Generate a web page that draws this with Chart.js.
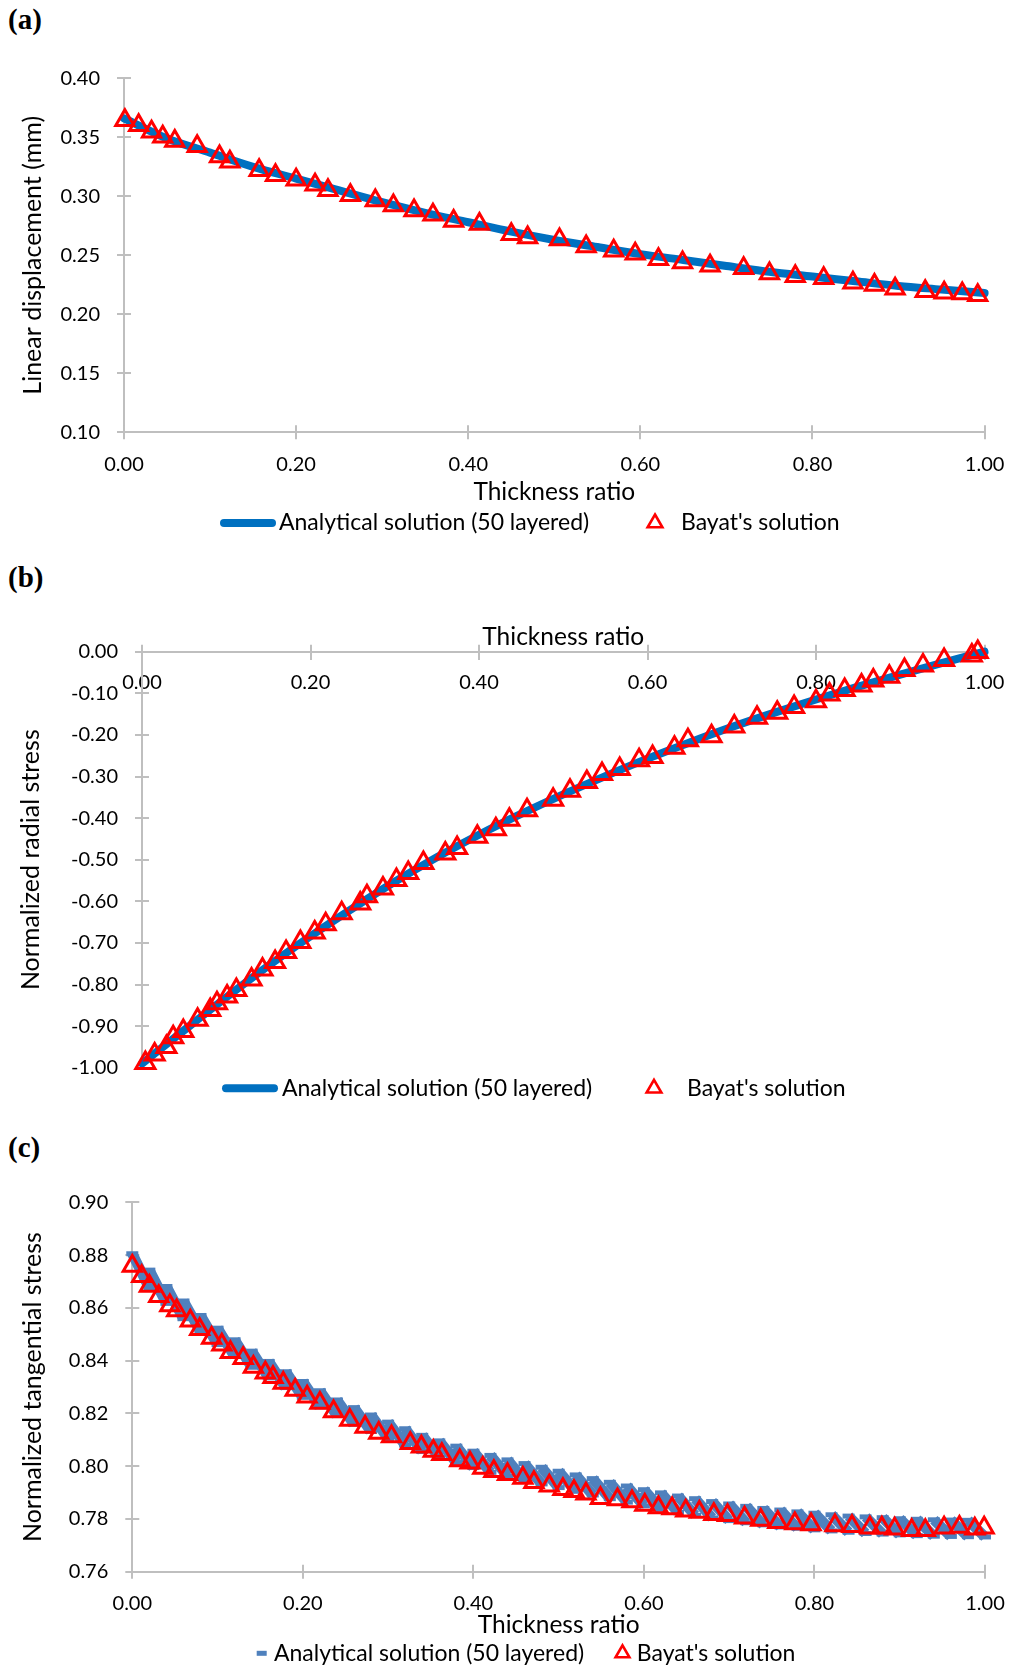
<!DOCTYPE html>
<html>
<head>
<meta charset="utf-8">
<script src="https://cdn.jsdelivr.net/npm/chart.js@4.4.0/dist/chart.umd.min.js"></script>
<style>
  html, body { margin: 0; padding: 0; background: #fff; }
  body { width: 1012px; height: 1667px; position: relative; overflow: hidden; }
  canvas { position: absolute; left: 0; }
  .tag { position: absolute; left: 8px; font: bold 29px "Liberation Serif", "Times New Roman", serif; line-height: 29px; color: #000; }
</style>
</head>
<body>
<div class="tag" style="top:5px">(a)</div>
<div class="tag" style="top:563px">(b)</div>
<div class="tag" style="top:1133px">(c)</div>
<canvas id="chartA" width="1012" height="545" style="top:0"></canvas>
<canvas id="chartB" width="1012" height="560" style="top:545px"></canvas>
<canvas id="chartC" width="1012" height="562" style="top:1105px"></canvas>
<script>
// series names shared by the three panels
const seriesNames = ['Analytical solution (50 layered)', "Bayat's solution"];
const xTitle = 'Thickness ratio';

// (a) linear displacement (mm)
const thicknessGrid = [0, 0.05, 0.10, 0.15, 0.20, 0.25, 0.30, 0.35, 0.40, 0.45, 0.50,
  0.55, 0.60, 0.65, 0.70, 0.75, 0.80, 0.85, 0.90, 0.95, 1.00];
const dispAnalytical = [0.366, 0.349, 0.337, 0.325, 0.315, 0.305, 0.295, 0.286, 0.278, 0.270, 0.263,
  0.257, 0.251, 0.246, 0.241, 0.236, 0.232, 0.228, 0.224, 0.221, 0.218];
const dispBayatX = [0.001, 0.017, 0.032, 0.045, 0.059, 0.085, 0.111, 0.123, 0.157, 0.176,
  0.200, 0.222, 0.237, 0.263, 0.292, 0.313, 0.337, 0.359, 0.383, 0.413,
  0.450, 0.469, 0.506, 0.537, 0.569, 0.594, 0.621, 0.649, 0.681, 0.720,
  0.750, 0.780, 0.813, 0.847, 0.872, 0.896, 0.931, 0.953, 0.974, 0.992];
const dispBayat = [0.3644, 0.3602, 0.3548, 0.3505, 0.3469, 0.3425, 0.3337, 0.3293, 0.3220, 0.3178,
  0.3140, 0.3098, 0.3052, 0.3009, 0.2964, 0.2922, 0.2880, 0.2844, 0.2791, 0.2765,
  0.2679, 0.2651, 0.2634, 0.2575, 0.2538, 0.2513, 0.2467, 0.2439, 0.2411, 0.2391,
  0.2346, 0.2323, 0.2305, 0.2267, 0.2248, 0.2217, 0.2195, 0.2182, 0.2176, 0.2161];

// (b) normalized radial stress
const radialAnalytical = [-0.990, -0.910, -0.831, -0.755, -0.684, -0.617, -0.553, -0.494, -0.440, -0.390, -0.343,
  -0.299, -0.257, -0.218, -0.181, -0.147, -0.115, -0.084, -0.055, -0.027, 0.000];
const radialBayatX = [0.004, 0.015, 0.029, 0.037, 0.049, 0.066, 0.081, 0.089, 0.101, 0.112,
  0.130, 0.143, 0.158, 0.171, 0.188, 0.205, 0.218, 0.237, 0.259, 0.267,
  0.286, 0.302, 0.316, 0.334, 0.360, 0.374, 0.398, 0.420, 0.436, 0.457,
  0.488, 0.508, 0.528, 0.546, 0.567, 0.590, 0.606, 0.632, 0.648, 0.676,
  0.703, 0.730, 0.754, 0.774, 0.800, 0.816, 0.834, 0.854, 0.868, 0.887,
  0.905, 0.927, 0.952, 0.985, 0.992];
const radialBayat = [-0.989, -0.968, -0.950, -0.927, -0.912, -0.885, -0.861, -0.845, -0.829, -0.813,
  -0.788, -0.764, -0.746, -0.722, -0.698, -0.675, -0.655, -0.629, -0.605, -0.588,
  -0.569, -0.549, -0.532, -0.508, -0.485, -0.472, -0.445, -0.427, -0.404, -0.381,
  -0.356, -0.334, -0.313, -0.294, -0.282, -0.261, -0.253, -0.231, -0.213, -0.203,
  -0.180, -0.159, -0.147, -0.133, -0.119, -0.103, -0.092, -0.081, -0.069, -0.060,
  -0.044, -0.033, -0.020, -0.009, -0.001];

// (c) normalized tangential stress, 50 layers: value at inner and outer face of each layer
const tanLayerEdges = [0, 0.02, 0.04, 0.06, 0.08, 0.10, 0.12, 0.14, 0.16, 0.18,
  0.20, 0.22, 0.24, 0.26, 0.28, 0.30, 0.32, 0.34, 0.36, 0.38,
  0.40, 0.42, 0.44, 0.46, 0.48, 0.50, 0.52, 0.54, 0.56, 0.58,
  0.60, 0.62, 0.64, 0.66, 0.68, 0.70, 0.72, 0.74, 0.76, 0.78,
  0.80, 0.82, 0.84, 0.86, 0.88, 0.90, 0.92, 0.94, 0.96, 0.98, 1.00];
const tanLayerInner = [0.8805, 0.8743, 0.8681, 0.8626, 0.8571, 0.8523, 0.8479, 0.8436, 0.8397, 0.8358,
  0.8321, 0.8286, 0.8251, 0.8222, 0.8194, 0.8167, 0.8142, 0.8117, 0.8096, 0.8076,
  0.8057, 0.8041, 0.8024, 0.8010, 0.7996, 0.7981, 0.7967, 0.7953, 0.7939, 0.7925,
  0.7911, 0.7899, 0.7887, 0.7877, 0.7866, 0.7857, 0.7848, 0.7840, 0.7834, 0.7827,
  0.7822, 0.7816, 0.7811, 0.7808, 0.7805, 0.7801, 0.7799, 0.7797, 0.7796, 0.7795];
const tanLayerOuter = [0.8675, 0.8617, 0.8559, 0.8510, 0.8461, 0.8416, 0.8375, 0.8335, 0.8298, 0.8261,
  0.8225, 0.8192, 0.8159, 0.8132, 0.8105, 0.8080, 0.8056, 0.8033, 0.8014, 0.7995,
  0.7977, 0.7962, 0.7946, 0.7933, 0.7919, 0.7905, 0.7891, 0.7877, 0.7864, 0.7850,
  0.7837, 0.7825, 0.7814, 0.7804, 0.7794, 0.7786, 0.7778, 0.7770, 0.7765, 0.7759,
  0.7755, 0.7750, 0.7745, 0.7743, 0.7740, 0.7737, 0.7735, 0.7734, 0.7733, 0.7732];
const tanBayatX = [0.000, 0.011, 0.020, 0.031, 0.044, 0.052, 0.068, 0.079, 0.093, 0.105,
  0.115, 0.130, 0.142, 0.156, 0.165, 0.177, 0.191, 0.205, 0.220, 0.236,
  0.255, 0.273, 0.289, 0.304, 0.326, 0.339, 0.353, 0.363, 0.384, 0.396,
  0.411, 0.424, 0.440, 0.458, 0.471, 0.489, 0.505, 0.518, 0.532, 0.549,
  0.569, 0.586, 0.601, 0.617, 0.633, 0.649, 0.665, 0.682, 0.698, 0.718,
  0.737, 0.757, 0.777, 0.796, 0.824, 0.844, 0.865, 0.879, 0.894, 0.914,
  0.930, 0.952, 0.970, 0.988, 0.999];
const tanBayat = [0.8759, 0.8720, 0.8683, 0.8644, 0.8609, 0.8590, 0.8551, 0.8519, 0.8486, 0.8460,
  0.8432, 0.8409, 0.8376, 0.8354, 0.8337, 0.8315, 0.8289, 0.8263, 0.8240, 0.8207,
  0.8175, 0.8149, 0.8126, 0.8113, 0.8087, 0.8074, 0.8058, 0.8045, 0.8022, 0.8013,
  0.7993, 0.7981, 0.7970, 0.7955, 0.7939, 0.7926, 0.7913, 0.7905, 0.7896, 0.7879,
  0.7874, 0.7866, 0.7853, 0.7844, 0.7840, 0.7831, 0.7827, 0.7818, 0.7814, 0.7805,
  0.7796, 0.7788, 0.7783, 0.7779, 0.7775, 0.7773, 0.7767, 0.7767, 0.7763, 0.7757,
  0.7757, 0.7767, 0.7770, 0.7763, 0.7767];

const FONT_FAMILY = 'Lato, "Open Sans", sans-serif';
const TICK_SIZE = 20;
const Y_TITLE_SIZE = 25;
const X_TITLE_SIZE = 24.5;
const LEGEND_SIZE = 23;
const GREY = '#BFBFBF';
const LINE_BLUE = '#0070C0';
const MARK_BLUE = '#4F81BD';
const RED = '#FF0000';
const TEXT = '#000000';

const toPoints = (xs, ys) => xs.map((x, i) => ({ x: x, y: ys[i] }));
const label2 = v => (Math.abs(v) < 1e-9 ? '0.00' : v.toFixed(2));

// each layer is its own short segment, a null point breaks the line between layers
const layerPoints = [];
tanLayerInner.forEach((inner, i) => {
  layerPoints.push({ x: tanLayerEdges[i], y: inner });
  layerPoints.push({ x: tanLayerEdges[i + 1], y: tanLayerOuter[i] });
  layerPoints.push({ x: tanLayerEdges[i + 1], y: null });
});

// excel style "cross" tick marks: chart.js draws the outer half, this draws the inner half
const innerTicks = {
  id: 'innerTicks',
  beforeDatasetsDraw(chart, args, opts) {
    const { ctx, chartArea, scales } = chart;
    const xs = scales.x, ys = scales.y;
    const axisY = xs.options.position === 'bottom' ? chartArea.bottom : ys.getPixelForValue(0);
    ctx.save();
    ctx.strokeStyle = GREY;
    ctx.lineWidth = 2;
    ctx.beginPath();
    ys.ticks.forEach((t, i) => {
      const py = Math.round(ys.getPixelForTick(i));
      ctx.moveTo(chartArea.left, py);
      ctx.lineTo(chartArea.left + opts.length, py);
    });
    xs.ticks.forEach((t, i) => {
      const px = Math.round(xs.getPixelForTick(i));
      ctx.moveTo(px, axisY);
      ctx.lineTo(px, axisY - opts.length);
    });
    ctx.stroke();
    ctx.restore();
  }
};

// legend drawn from the dataset styles, laid out like the excel one
const excelLegend = {
  id: 'excelLegend',
  afterDraw(chart, args, opts) {
    const { ctx } = chart;
    const sets = chart.data.datasets;
    ctx.save();
    ctx.font = LEGEND_SIZE + 'px ' + FONT_FAMILY;
    ctx.textBaseline = 'middle';
    opts.items.forEach(item => {
      const ds = sets[item.dataset];
      if (item.kind === 'line') {
        ctx.strokeStyle = ds.borderColor;
        ctx.lineWidth = ds.borderWidth;
        ctx.lineCap = 'round';
        ctx.beginPath();
        ctx.moveTo(item.from, opts.y);
        ctx.lineTo(item.to, opts.y);
        ctx.stroke();
      } else if (item.kind === 'dash') {
        ctx.fillStyle = ds.borderColor;
        ctx.fillRect(item.at - 5, opts.y - 2.5, 10, 5);
      } else {
        ctx.strokeStyle = ds.pointBorderColor;
        ctx.fillStyle = 'rgba(0,0,0,0)';
        ctx.lineWidth = item.borderWidth;
        Chart.helpers.drawPoint(ctx, { pointStyle: ds.pointStyle, radius: item.radius, borderWidth: item.borderWidth, rotation: 0 }, item.at, opts.y);
      }
      ctx.fillStyle = TEXT;
      ctx.fillText(ds.label, item.textX, opts.y);
    });
    ctx.restore();
  }
};

function axisGrid() {
  return { display: true, drawOnChartArea: false, drawTicks: true, tickLength: 7, color: GREY, lineWidth: 2 };
}

function makeChart(id, datasets, L) {
  return new Chart(document.getElementById(id), {
    type: 'scatter',
    data: { datasets: datasets },
    options: {
      responsive: false,
      animation: false,
      events: [],
      layout: { padding: L.padding },
      plugins: {
        legend: { display: false },
        tooltip: { enabled: false },
        title: L.topTitle
          ? { display: true, text: xTitle, position: 'top', fullSize: false, align: 'center', color: TEXT,
              font: { family: FONT_FAMILY, size: X_TITLE_SIZE, weight: 'normal' }, padding: { top: L.topTitle, bottom: 0.3 } }
          : { display: false },
        innerTicks: { length: 7 },
        excelLegend: L.legend
      },
      scales: {
        x: {
          type: 'linear', min: 0, max: 1, position: L.xPosition,
          afterFit: scale => {
            if (L.xHeight) scale.height = L.xHeight;
            scale.paddingLeft = 0;
            scale.paddingRight = 0;
          },
          ticks: { stepSize: 0.2, padding: L.xTickPad, callback: label2, color: TEXT, maxRotation: 0, autoSkip: false,
                   font: { family: FONT_FAMILY, size: TICK_SIZE } },
          grid: axisGrid(),
          border: { display: true, color: GREY, width: 2 },
          title: L.topTitle ? { display: false }
            : { display: true, text: xTitle, color: TEXT, font: { family: FONT_FAMILY, size: X_TITLE_SIZE },
                padding: { top: 0, bottom: L.xTitlePad } }
        },
        y: {
          type: 'linear', min: L.yMin, max: L.yMax, position: 'left',
          afterFit: scale => {
            scale.width = L.yWidth;
            scale.paddingTop = 0;
            scale.paddingBottom = 0;
          },
          ticks: { stepSize: L.yStep, padding: 17, callback: label2, color: TEXT, autoSkip: false,
                   font: { family: FONT_FAMILY, size: TICK_SIZE } },
          grid: axisGrid(),
          border: { display: true, color: GREY, width: 2 },
          title: { display: true, text: L.yTitle, color: TEXT, font: { family: FONT_FAMILY, size: Y_TITLE_SIZE },
                   padding: { top: L.yTitlePad, bottom: 0 } }
        }
      }
    },
    plugins: [innerTicks, excelLegend]
  });
}

function bayatSet(xs, ys, radius) {
  return {
    label: seriesNames[1], data: toPoints(xs, ys), showLine: false, order: 1, clip: false,
    pointStyle: 'triangle', pointRadius: radius, pointBorderWidth: 3,
    pointBorderColor: RED, pointBackgroundColor: 'rgba(0,0,0,0)', borderColor: RED
  };
}

function analyticalLine(ys) {
  return {
    label: seriesNames[0], data: toPoints(thicknessGrid, ys), showLine: true, order: 2, clip: false,
    borderColor: LINE_BLUE, borderWidth: 8, borderCapStyle: 'round', pointRadius: 0,
    cubicInterpolationMode: 'monotone'
  };
}

makeChart('chartA', [analyticalLine(dispAnalytical), bayatSet(dispBayatX, dispBayat, 10.5)], {
  padding: { top: 78.3, left: 0, right: 27.4, bottom: 0 },
  xPosition: 'bottom', xHeight: 112.7, xTickPad: 13.2, xTitlePad: 38.6,
  yMin: 0.10, yMax: 0.40, yStep: 0.05, yWidth: 124, yTitlePad: 18.3,
  yTitle: 'Linear displacement (mm)',
  legend: { y: 523, items: [
    { dataset: 0, kind: 'line', from: 224, to: 272, textX: 279 },
    { dataset: 1, kind: 'point', at: 655, radius: 8.5, borderWidth: 2.6, textX: 681 }
  ] }
});

makeChart('chartB', [analyticalLine(radialAnalytical), bayatSet(radialBayatX, radialBayat, 11)], {
  padding: { top: 0, left: 0, right: 27.5, bottom: 37.3 },
  topTitle: 77,
  xPosition: { y: 0 }, xTickPad: 12.3,
  yMin: -1, yMax: 0, yStep: 0.1, yWidth: 142, yTitlePad: 15.8,
  yTitle: 'Normalized radial stress',
  legend: { y: 543.3, items: [
    { dataset: 0, kind: 'line', from: 226, to: 274, textX: 282 },
    { dataset: 1, kind: 'point', at: 654, radius: 8.5, borderWidth: 2.6, textX: 687 }
  ] }
});

makeChart('chartC', [
  {
    label: seriesNames[0], data: layerPoints, showLine: true, spanGaps: false, order: 2, clip: false,
    borderColor: MARK_BLUE, borderWidth: 10.5, borderCapStyle: 'butt', tension: 0,
    pointStyle: 'line', pointRadius: 6, pointBorderWidth: 5, pointBorderColor: MARK_BLUE
  },
  bayatSet(tanBayatX, tanBayat, 10.5)
], {
  padding: { top: 97.3, left: 0, right: 27, bottom: 0 },
  xPosition: 'bottom', xHeight: 95.2, xTickPad: 12.7, xTitlePad: 26.8,
  yMin: 0.76, yMax: 0.90, yStep: 0.02, yWidth: 132.3, yTitlePad: 17.5,
  yTitle: 'Normalized tangential stress',
  legend: { y: 548.3, items: [
    { dataset: 0, kind: 'dash', at: 261.7, textX: 274 },
    { dataset: 1, kind: 'point', at: 622.5, radius: 8, borderWidth: 2.6, textX: 636.8 }
  ] }
});
</script>
</body>
</html>
